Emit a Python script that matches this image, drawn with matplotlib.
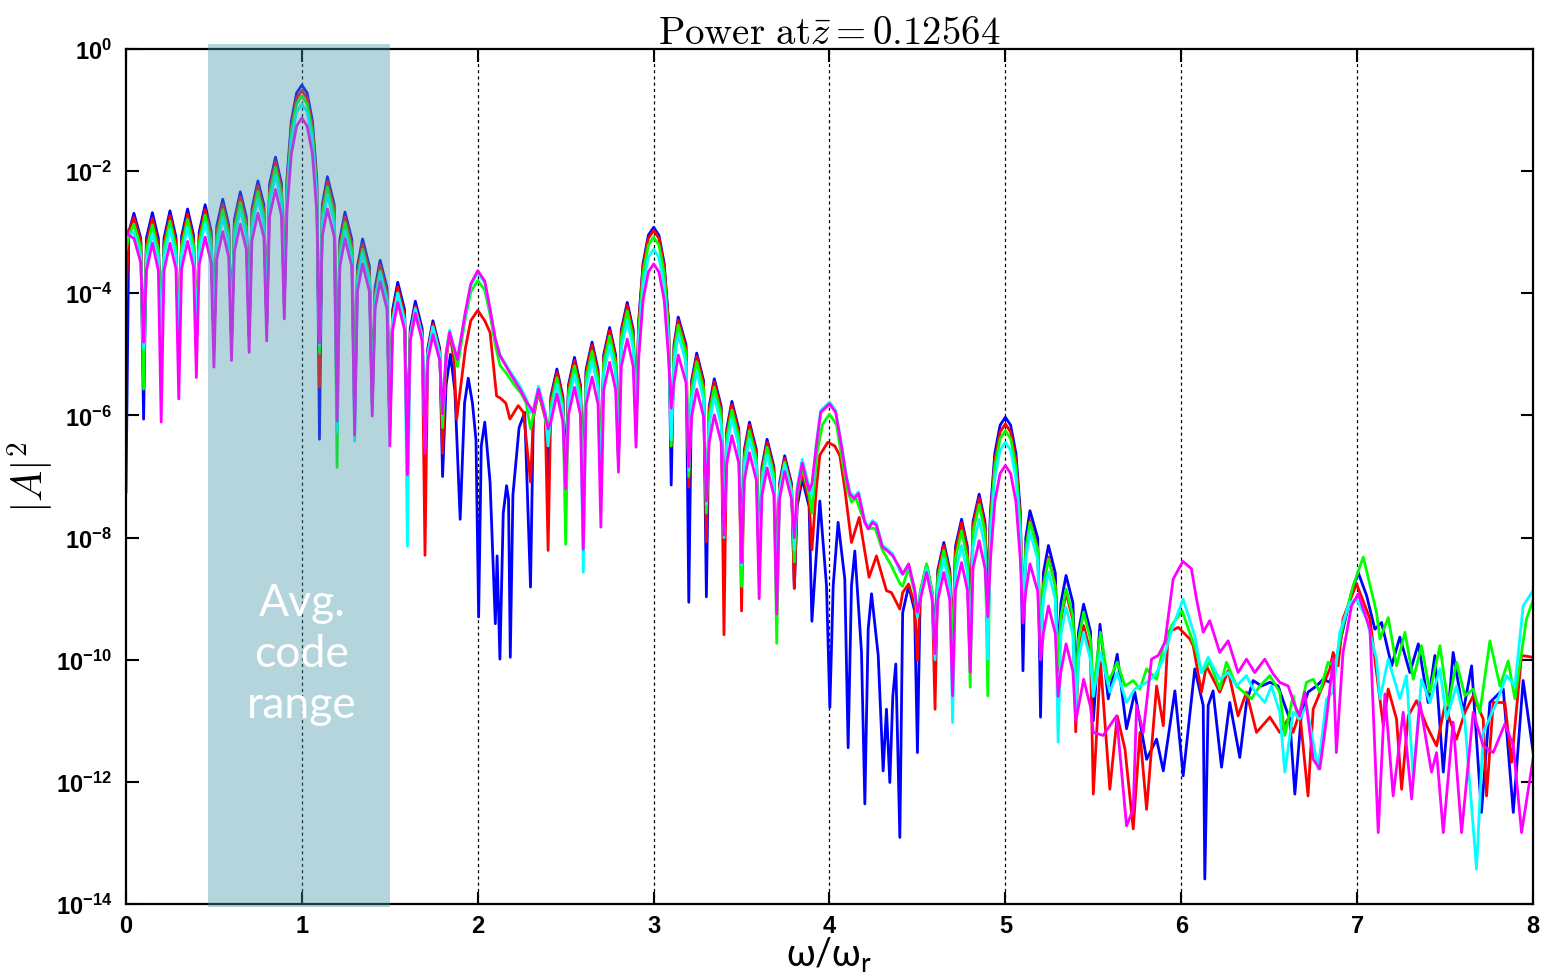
import numpy as np
import matplotlib
matplotlib.use('Agg')
import matplotlib.pyplot as plt
import matplotlib.transforms as mtransforms
from matplotlib.patches import Rectangle
from matplotlib.ticker import NullLocator

plt.rcParams['mathtext.fontset'] = 'custom'
plt.rcParams['mathtext.rm'] = 'Lato'
plt.rcParams['mathtext.bf'] = 'Liberation Sans:bold'

# values are log10(|A|^2)

# --- fundamental lobes, 0 .. 1.8 (null, shoulder, peak, shoulder per lobe)
xa = [0.0, 0.016, 0.045, 0.084,
      0.1, 0.116, 0.15, 0.184,
      0.2, 0.216, 0.25, 0.284,
      0.3, 0.316, 0.35, 0.384,
      0.4, 0.416, 0.45, 0.484,
      0.5, 0.516, 0.55, 0.584,
      0.6, 0.616, 0.65, 0.684,
      0.7, 0.716, 0.75, 0.784,
      0.8, 0.816, 0.85, 0.884,
      0.9, 0.915, 0.94, 0.97, 1.0, 1.03, 1.06, 1.085,
      1.1, 1.116, 1.145, 1.184,
      1.2, 1.216, 1.245, 1.284,
      1.3, 1.316, 1.345, 1.384,
      1.4, 1.416, 1.445, 1.484,
      1.5, 1.516, 1.545, 1.584,
      1.6, 1.616, 1.645, 1.684,
      1.7, 1.716, 1.745, 1.784,
      1.8]

b_a = [-7.25, -3.0, -2.69, -3.1,
       -6.06, -3.1, -2.68, -3.1,
       -5.0, -3.1, -2.65, -3.08,
       -5.08, -3.07, -2.62, -3.05,
       -4.9, -3.0, -2.55, -2.98,
       -4.9, -2.9, -2.46, -2.88,
       -4.8, -2.8, -2.34, -2.75,
       -4.7, -2.62, -2.16, -2.55,
       -4.5, -2.22, -1.77, -2.2,
       -4.2, -2.13, -1.18, -0.72, -0.59, -0.72, -1.18, -2.13,
       -6.39, -2.55, -2.09, -2.55,
       -5.8, -3.12, -2.67, -3.12,
       -6.0, -3.56, -3.11, -3.56,
       -5.8, -3.91, -3.46, -3.91,
       -6.2, -4.27, -3.82, -4.27,
       -6.6, -4.58, -4.13, -4.58,
       -6.4, -4.9, -4.45, -4.9,
       -7.0]
r_a = [-4.06, -3.0, -2.76, -3.15,
       -5.0, -3.2, -2.77, -3.2,
       -4.9, -3.18, -2.73, -3.15,
       -4.9, -3.15, -2.70, -3.12,
       -4.8, -3.08, -2.63, -3.05,
       -4.8, -2.99, -2.54, -2.96,
       -4.75, -2.87, -2.42, -2.83,
       -4.65, -2.69, -2.24, -2.63,
       -4.5, -2.3, -1.85, -2.28,
       -4.2, -2.22, -1.27, -0.81, -0.68, -0.81, -1.27, -2.22,
       -5.53, -2.62, -2.17, -2.62,
       -5.8, -3.2, -2.75, -3.2,
       -6.0, -3.64, -3.19, -3.64,
       -5.8, -3.99, -3.54, -3.99,
       -6.2, -4.35, -3.90, -4.35,
       -6.6, -4.66, -4.21, -4.66,
       -8.29, -4.95, -4.50, -4.95,
       -6.62]
g_a = [-3.3, -3.05, -2.87, -3.25,
       -5.57, -3.3, -2.88, -3.3,
       -4.8, -3.27, -2.82, -3.25,
       -4.85, -3.24, -2.79, -3.21,
       -4.75, -3.17, -2.72, -3.14,
       -4.75, -3.08, -2.63, -3.05,
       -4.7, -2.96, -2.51, -2.92,
       -4.6, -2.78, -2.33, -2.72,
       -4.45, -2.39, -1.94, -2.37,
       -4.15, -2.31, -1.36, -0.90, -0.77, -0.90, -1.36, -2.31,
       -4.98, -2.71, -2.26, -2.71,
       -6.85, -3.29, -2.84, -3.29,
       -6.0, -3.73, -3.28, -3.73,
       -5.8, -4.08, -3.63, -4.08,
       -6.2, -4.44, -3.99, -4.44,
       -6.6, -4.75, -4.30, -4.75,
       -6.4, -5.0, -4.55, -5.0,
       -6.2]
c_a = [-3.1, -3.05, -3.0, -3.4,
       -4.9, -3.45, -3.02, -3.45,
       -4.8, -3.4, -2.95, -3.38,
       -4.8, -3.37, -2.92, -3.34,
       -4.7, -3.3, -2.85, -3.27,
       -4.7, -3.21, -2.76, -3.18,
       -4.7, -3.09, -2.64, -3.05,
       -4.6, -2.91, -2.46, -2.85,
       -4.45, -2.52, -2.07, -2.5,
       -4.15, -2.44, -1.49, -1.03, -0.90, -1.03, -1.49, -2.44,
       -4.85, -2.84, -2.39, -2.84,
       -6.27, -3.42, -2.97, -3.42,
       -6.42, -3.8, -3.35, -3.8,
       -5.9, -4.11, -3.66, -4.11,
       -6.3, -4.45, -4.0, -4.45,
       -8.14, -4.7, -4.25, -4.7,
       -6.5, -5.0, -4.55, -5.0,
       -6.0]
m_a = [-2.95, -3.05, -3.1, -3.5,
       -4.8, -3.63, -3.18, -3.63,
       -6.11, -3.63, -3.18, -3.6,
       -5.73, -3.6, -3.15, -3.57,
       -5.38, -3.53, -3.08, -3.5,
       -5.21, -3.44, -2.99, -3.41,
       -5.10, -3.32, -2.87, -3.28,
       -4.97, -3.14, -2.69, -3.08,
       -4.78, -2.75, -2.30, -2.73,
       -4.42, -2.67, -1.72, -1.26, -1.13, -1.26, -1.72, -2.67,
       -4.81, -3.07, -2.62, -3.07,
       -6.09, -3.56, -3.11, -3.56,
       -6.32, -3.97, -3.52, -3.97,
       -6.01, -4.26, -3.81, -4.26,
       -6.50, -4.6, -4.15, -4.6,
       -6.97, -4.78, -4.33, -4.78,
       -6.62, -5.1, -4.68, -5.1,
       -5.98]

# --- second harmonic, 1.8 .. 2.3 (x, value)
b_h2 = [(1.82, -5.5), (1.845, -5.0), (1.87, -5.6), (1.9, -7.7), (1.925, -5.8),
        (1.946, -5.39), (1.97, -5.8), (1.99, -6.4), (2.005, -9.3), (2.02, -6.5),
        (2.04, -6.11), (2.07, -7.09), (2.1, -9.41), (2.11, -8.3), (2.126, -9.99),
        (2.145, -7.6), (2.164, -7.15), (2.175, -7.37), (2.185, -9.96), (2.2, -7.3),
        (2.235, -6.2), (2.267, -5.95)]
r_h2 = [(1.82, -5.1), (1.84, -4.64), (1.865, -5.1), (1.88, -6.06), (1.93, -4.9),
        (1.96, -4.45), (2.0, -4.28), (2.04, -4.45), (2.07, -4.64), (2.107, -5.68),
        (2.13, -5.72), (2.16, -5.8), (2.183, -6.06), (2.23, -5.84), (2.26, -5.95)]
g_h2 = [(1.82, -5.0), (1.84, -4.62), (1.865, -4.95), (1.885, -5.2), (1.93, -4.4),
        (1.96, -3.98), (2.0, -3.79), (2.04, -3.95), (2.07, -4.35), (2.1, -4.85),
        (2.126, -5.18), (2.16, -5.3), (2.21, -5.51), (2.25, -5.65), (2.275, -5.8)]
c_h2 = [(1.82, -5.0), (1.84, -4.6), (1.865, -4.9), (1.885, -5.05), (1.93, -4.33),
        (1.96, -3.88), (2.0, -3.66), (2.04, -3.83), (2.07, -4.28), (2.1, -4.75),
        (2.126, -5.0), (2.18, -5.26), (2.24, -5.52), (2.278, -5.74)]
m_h2 = [(1.82, -5.0), (1.84, -4.64), (1.865, -4.9), (1.885, -5.08), (1.93, -4.3),
        (1.96, -3.85), (2.0, -3.63), (2.04, -3.8), (2.07, -4.26), (2.1, -4.75),
        (2.126, -5.02), (2.18, -5.29), (2.24, -5.57), (2.278, -5.78)]

# --- third harmonic lobes, 2.3 .. 3.9
xc = [2.3, 2.316, 2.345, 2.384,
      2.4, 2.416, 2.45, 2.484,
      2.5, 2.516, 2.55, 2.584,
      2.6, 2.616, 2.65, 2.684,
      2.7, 2.716, 2.75, 2.784,
      2.8, 2.816, 2.85, 2.884,
      2.9, 2.915, 2.94, 2.97, 3.0, 3.03, 3.06, 3.085,
      3.1, 3.116, 3.14, 3.184,
      3.2, 3.216, 3.245, 3.284,
      3.3, 3.316, 3.345, 3.384,
      3.4, 3.416, 3.445, 3.484,
      3.5, 3.516, 3.545, 3.584,
      3.6, 3.616, 3.645, 3.684,
      3.7, 3.716, 3.745, 3.784,
      3.8, 3.816, 3.845, 3.884,
      3.9]

b_c = [-8.81, -6.0, -5.57, -6.0,
       -7.15, -5.69, -5.24, -5.69,
       -6.93, -5.5, -5.05, -5.5,
       -7.3, -5.25, -4.80, -5.25,
       -7.2, -5.01, -4.56, -5.01,
       -6.7, -4.6, -4.15, -4.6,
       -6.2, -4.46, -3.51, -3.05, -2.92, -3.05, -3.51, -4.46,
       -7.14, -4.84, -4.39, -4.84,
       -9.06, -5.43, -4.98, -5.43,
       -8.97, -5.85, -5.40, -5.85,
       -7.8, -6.22, -5.77, -6.22,
       -8.3, -6.56, -6.11, -6.56,
       -8.6, -6.84, -6.39, -6.84,
       -8.8, -7.11, -6.66, -7.11,
       -8.83, -7.49, -7.04, -7.49,
       -9.37]
r_c = [-7.09, -6.05, -5.62, -6.05,
       -8.21, -5.74, -5.29, -5.74,
       -7.0, -5.55, -5.10, -5.55,
       -7.3, -5.3, -4.85, -5.3,
       -7.2, -5.06, -4.61, -5.06,
       -6.7, -4.65, -4.20, -4.65,
       -6.2, -4.51, -3.56, -3.10, -2.97, -3.10, -3.56, -4.51,
       -6.5, -4.89, -4.44, -4.89,
       -7.17, -5.48, -5.03, -5.48,
       -8.07, -5.9, -5.45, -5.9,
       -9.59, -6.27, -5.82, -6.27,
       -9.2, -6.61, -6.16, -6.61,
       -8.5, -6.89, -6.44, -6.89,
       -8.8, -7.15, -6.70, -7.15,
       -8.83, -7.4, -6.95, -7.4,
       -8.2]
g_c = [-6.22, -6.0, -5.6, -6.02,
       -6.45, -5.83, -5.38, -5.83,
       -8.11, -5.64, -5.19, -5.64,
       -7.3, -5.4, -4.95, -5.4,
       -7.2, -5.15, -4.70, -5.15,
       -6.7, -4.74, -4.29, -4.74,
       -6.2, -4.62, -3.67, -3.21, -3.08, -3.21, -3.67, -4.62,
       -6.5, -4.97, -4.52, -4.97,
       -7.0, -5.57, -5.12, -5.57,
       -7.6, -5.99, -5.54, -5.99,
       -7.9, -6.36, -5.91, -6.36,
       -8.8, -6.7, -6.25, -6.7,
       -8.5, -6.97, -6.52, -6.97,
       -9.73, -7.21, -6.76, -7.21,
       -8.4, -7.3, -6.85, -7.3,
       -7.6]
c_c = [-5.95, -5.9, -5.52, -5.95,
       -6.5, -5.94, -5.49, -5.94,
       -7.1, -5.78, -5.33, -5.78,
       -8.57, -5.55, -5.10, -5.55,
       -7.3, -5.31, -4.86, -5.31,
       -6.8, -4.9, -4.45, -4.9,
       -6.3, -4.82, -3.87, -3.41, -3.28, -3.41, -3.87, -4.82,
       -6.4, -5.13, -4.68, -5.13,
       -6.9, -5.73, -5.28, -5.73,
       -7.45, -6.15, -5.70, -6.15,
       -8.0, -6.5, -6.05, -6.5,
       -8.45, -6.83, -6.38, -6.83,
       -8.6, -7.09, -6.64, -7.09,
       -9.0, -7.25, -6.80, -7.25,
       -8.2, -7.17, -6.72, -7.17,
       -7.3]
m_c = [-5.87, -5.95, -5.57, -6.0,
       -6.22, -6.1, -5.65, -6.1,
       -7.2, -5.99, -5.54, -5.99,
       -8.19, -5.82, -5.37, -5.82,
       -7.83, -5.58, -5.13, -5.58,
       -6.93, -5.2, -4.75, -5.2,
       -6.52, -5.06, -4.11, -3.65, -3.52, -3.65, -4.11, -5.06,
       -5.88, -5.46, -5.01, -5.46,
       -6.84, -6.02, -5.57, -6.02,
       -7.40, -6.44, -5.99, -6.44,
       -7.96, -6.78, -6.33, -6.78,
       -8.41, -7.06, -6.61, -7.06,
       -9.0, -7.31, -6.86, -7.31,
       -9.25, -7.37, -6.92, -7.37,
       -8.0, -7.23, -6.78, -7.23,
       -7.12]

# --- fourth harmonic, 3.9 .. 4.4
b_h4 = [(3.945, -7.40), (3.983, -8.79), (4.002, -10.78), (4.021, -8.79), (4.049, -7.75),
        (4.087, -8.68), (4.106, -11.44), (4.125, -8.79), (4.144, -8.22), (4.182, -9.88),
        (4.201, -12.36), (4.22, -9.5), (4.239, -8.92), (4.277, -9.93), (4.305, -11.82),
        (4.324, -10.81), (4.343, -12.01), (4.36, -10.6), (4.377, -10.07)]
r_h4 = [(3.925, -7.2), (3.945, -6.65), (3.99, -6.44), (4.03, -6.5), (4.059, -6.66),
        (4.087, -7.2), (4.125, -8.08), (4.169, -7.67), (4.225, -8.65), (4.267, -8.30),
        (4.324, -8.87), (4.352, -8.9)]
g_h4 = [(3.93, -6.6), (3.96, -6.15), (4.0, -5.98), (4.04, -6.15), (4.07, -6.7),
        (4.1, -7.2), (4.125, -7.42), (4.15, -7.35), (4.18, -7.6), (4.22, -7.85),
        (4.26, -7.85), (4.3, -8.2), (4.35, -8.45)]
c_h4 = [(3.925, -6.45), (3.95, -5.92), (4.0, -5.78), (4.035, -5.92), (4.068, -6.47),
        (4.095, -6.97), (4.116, -7.26), (4.14, -7.33), (4.165, -7.25), (4.2, -7.72),
        (4.22, -7.83), (4.245, -7.72), (4.267, -7.77), (4.3, -8.12), (4.33, -8.19),
        (4.36, -8.27)]
m_h4 = [(3.925, -6.5), (3.95, -5.95), (4.0, -5.81), (4.035, -5.95), (4.068, -6.5),
        (4.095, -7.0), (4.116, -7.29), (4.14, -7.36), (4.165, -7.28), (4.2, -7.75),
        (4.22, -7.86), (4.245, -7.75), (4.267, -7.8), (4.3, -8.15), (4.33, -8.22),
        (4.36, -8.3)]

# --- fifth harmonic lobes, 4.4 .. 5.5
xe = [4.4, 4.416, 4.45, 4.484,
      4.5, 4.516, 4.552, 4.584,
      4.6, 4.616, 4.65, 4.684,
      4.7, 4.716, 4.751, 4.784,
      4.8, 4.816, 4.851, 4.884,
      4.9, 4.915, 4.94, 4.97, 5.0, 5.03, 5.06, 5.085,
      5.1, 5.116, 5.14, 5.184,
      5.2, 5.216, 5.245, 5.284,
      5.3, 5.316, 5.345, 5.384,
      5.4, 5.416, 5.445, 5.484,
      5.5]

b_e = [-12.91, -9.23, -8.79, -9.2,
       -11.52, -8.9, -8.45, -8.9,
       -9.6, -8.53, -8.08, -8.53,
       -9.8, -8.15, -7.70, -8.15,
       -9.5, -7.74, -7.29, -7.74,
       -9.0, -7.57, -6.62, -6.16, -6.03, -6.16, -6.62, -7.57,
       -10.18, -8.01, -7.56, -8.01,
       -10.94, -8.58, -8.13, -8.58,
       -10.0, -9.07, -8.62, -9.07,
       -10.3, -9.54, -9.09, -9.54,
       -11.0]
r_e = [-9.17, -8.9, -8.76, -9.1,
       -10.01, -8.93, -8.48, -8.93,
       -10.81, -8.58, -8.13, -8.58,
       -9.8, -8.21, -7.76, -8.21,
       -9.5, -7.8, -7.35, -7.8,
       -9.0, -7.68, -6.73, -6.27, -6.14, -6.27, -6.73, -7.68,
       -9.3, -8.17, -7.72, -8.17,
       -9.8, -8.77, -8.32, -8.77,
       -10.2, -9.35, -8.90, -9.35,
       -11.18, -9.89, -9.44, -9.89,
       -12.2]
g_e = [-8.75, -8.8, -8.5, -8.9,
       -9.3, -8.88, -8.43, -8.88,
       -9.8, -8.66, -8.21, -8.66,
       -9.9, -8.34, -7.89, -8.34,
       -10.45, -7.91, -7.46, -7.91,
       -10.59, -7.79, -6.84, -6.38, -6.25, -6.38, -6.84, -7.79,
       -9.2, -8.2, -7.75, -8.2,
       -9.7, -8.8, -8.35, -8.8,
       -10.1, -9.29, -8.84, -9.29,
       -10.4, -9.67, -9.22, -9.67,
       -10.5]
c_e = [-8.55, -8.6, -8.45, -8.85,
       -9.3, -8.95, -8.5, -8.95,
       -10.0, -8.8, -8.35, -8.8,
       -11.03, -8.58, -8.13, -8.58,
       -10.0, -8.15, -7.70, -8.15,
       -9.99, -7.98, -7.03, -6.57, -6.44, -6.57, -7.03, -7.98,
       -9.1, -8.36, -7.91, -8.36,
       -9.99, -9.01, -8.56, -9.01,
       -11.35, -9.59, -9.14, -9.59,
       -10.9, -10.0, -9.55, -10.0,
       -10.6]
m_e = [-8.5, -8.6, -8.43, -8.85,
       -9.22, -9.02, -8.57, -9.02,
       -9.9, -9.02, -8.57, -9.02,
       -10.59, -8.86, -8.41, -8.86,
       -10.2, -8.5, -8.05, -8.5,
       -9.3, -8.36, -7.41, -6.95, -6.82, -6.95, -7.41, -8.36,
       -9.4, -8.88, -8.43, -8.88,
       -10.0, -9.57, -9.12, -9.57,
       -10.6, -10.19, -9.74, -10.19,
       -11.0, -10.77, -10.32, -10.77,
       -11.19]

# --- 5.5 .. 8 (sixth / seventh harmonic and noise floor)
b_hi = [(5.538, -9.42), (5.585, -10.64), (5.636, -9.91), (5.689, -11.13), (5.736, -10.53),
        (5.803, -11.63), (5.86, -11.30), (5.898, -11.82), (5.964, -10.51), (6.011, -11.9),
        (6.077, -10.15), (6.125, -10.75), (6.134, -13.59), (6.153, -10.75), (6.181, -10.51),
        (6.229, -11.76), (6.276, -10.70), (6.333, -11.60), (6.371, -10.70), (6.409, -10.34),
        (6.456, -10.43), (6.504, -10.37), (6.551, -10.43), (6.589, -10.75), (6.617, -10.97),
        (6.646, -12.2), (6.684, -10.86), (6.721, -10.53), (6.769, -10.43), (6.807, -10.32),
        (6.845, -10.37), (6.882, -9.99), (6.92, -9.50), (6.968, -8.90), (7.006, -8.57),
        (7.054, -8.95), (7.101, -9.50), (7.139, -9.39), (7.196, -10.10), (7.243, -9.63),
        (7.30, -10.21), (7.348, -9.74), (7.404, -10.70), (7.442, -9.93), (7.49, -11.84),
        (7.546, -9.88), (7.603, -10.86), (7.651, -10.10), (7.707, -12.5), (7.755, -10.70),
        (7.831, -10.48), (7.888, -12.5), (7.944, -10.34), (8.0, -11.5)]
r_hi = [(5.541, -10.04), (5.594, -12.12), (5.636, -10.92), (5.68, -11.46), (5.727, -12.77),
        (5.765, -11.19), (5.803, -12.45), (5.86, -10.43), (5.898, -11.08), (5.926, -9.55),
        (5.983, -9.47), (6.049, -9.66), (6.068, -9.77), (6.115, -10.53), (6.143, -10.10),
        (6.219, -10.53), (6.267, -10.18), (6.323, -10.92), (6.371, -10.53), (6.428, -11.19),
        (6.504, -10.94), (6.56, -11.19), (6.608, -10.97), (6.636, -11.19), (6.674, -10.86),
        (6.721, -12.23), (6.75, -10.81), (6.797, -10.48), (6.845, -10.15), (6.864, -9.88),
        (6.892, -10.10), (6.92, -9.33), (6.977, -8.90), (6.997, -8.76), (7.073, -9.33),
        (7.12, -10.43), (7.149, -11.08), (7.177, -10.48), (7.224, -10.97), (7.253, -12.12),
        (7.291, -10.92), (7.338, -10.67), (7.395, -11.08), (7.452, -11.41), (7.499, -10.75),
        (7.565, -11.30), (7.613, -10.86), (7.66, -10.59), (7.717, -10.97), (7.736, -12.23),
        (7.774, -10.70), (7.84, -10.70), (7.878, -11.68), (7.935, -9.93), (8.0, -9.96)]
g_hi = [(5.541, -9.55), (5.585, -10.37), (5.636, -10.04), (5.68, -10.43), (5.727, -10.34),
        (5.765, -10.48), (5.803, -10.15), (5.86, -10.32), (5.898, -9.77), (5.945, -9.44),
        (6.005, -9.2), (6.087, -9.88), (6.115, -10.21), (6.162, -10.04), (6.219, -10.48),
        (6.257, -10.04), (6.314, -10.43), (6.399, -10.64), (6.447, -10.43), (6.504, -10.26),
        (6.56, -10.53), (6.589, -11.24), (6.636, -10.59), (6.665, -10.97), (6.712, -10.37),
        (6.75, -10.32), (6.788, -10.53), (6.835, -10.04), (6.873, -10.10), (6.92, -9.44),
        (6.977, -8.79), (7.035, -8.32), (7.11, -9.22), (7.13, -9.66), (7.177, -9.31),
        (7.224, -10.10), (7.272, -9.55), (7.319, -10.32), (7.366, -9.77), (7.414, -10.53),
        (7.471, -9.77), (7.518, -10.75), (7.565, -10.04), (7.613, -10.59), (7.66, -10.48),
        (7.698, -10.86), (7.755, -9.69), (7.812, -10.43), (7.859, -10.02), (7.897, -10.64),
        (7.963, -9.33), (8.0, -9.03)]
c_hi = [(5.541, -9.88), (5.594, -10.53), (5.636, -10.21), (5.689, -10.7), (5.736, -10.48),
        (5.803, -10.37), (5.85, -10.26), (5.898, -9.99), (5.954, -9.44), (6.011, -9.01),
        (6.077, -9.61), (6.115, -10.21), (6.153, -9.96), (6.219, -10.32), (6.267, -10.21),
        (6.314, -10.43), (6.371, -10.26), (6.409, -10.48), (6.475, -10.70), (6.513, -10.43),
        (6.56, -10.86), (6.589, -11.84), (6.636, -10.86), (6.674, -10.97), (6.712, -10.75),
        (6.778, -11.79), (6.826, -10.64), (6.864, -10.53), (6.902, -9.55), (6.958, -9.06),
        (6.997, -9.01), (7.054, -9.33), (7.11, -9.99), (7.13, -10.64), (7.177, -9.99),
        (7.243, -10.64), (7.281, -10.26), (7.319, -11.92), (7.366, -10.32), (7.414, -10.70),
        (7.471, -10.15), (7.508, -10.97), (7.565, -10.43), (7.613, -11.02), (7.679, -13.43),
        (7.717, -11.19), (7.793, -10.70), (7.85, -10.26), (7.897, -10.43), (7.944, -9.12),
        (8.0, -8.87)]
m_hi = [(5.556, -11.24), (5.632, -10.92), (5.689, -12.72), (5.727, -12.45), (5.746, -10.75),
        (5.784, -11.19), (5.831, -9.99), (5.869, -9.93), (5.907, -9.72), (5.954, -8.68),
        (6.009, -8.39), (6.058, -8.51), (6.087, -9.01), (6.125, -9.55), (6.162, -9.36),
        (6.219, -9.88), (6.267, -9.69), (6.323, -10.21), (6.371, -9.99), (6.418, -10.21),
        (6.475, -9.99), (6.522, -10.23), (6.56, -10.37), (6.608, -10.43), (6.646, -10.75),
        (6.674, -10.92), (6.702, -10.53), (6.75, -11.63), (6.788, -11.79), (6.826, -10.97),
        (6.864, -9.99), (6.882, -11.52), (6.92, -9.88), (6.968, -9.12), (7.006, -8.92),
        (7.073, -9.50), (7.12, -12.83), (7.158, -10.56), (7.205, -12.23), (7.262, -10.86),
        (7.31, -12.28), (7.357, -10.70), (7.423, -11.84), (7.452, -11.52), (7.49, -12.83),
        (7.546, -11.02), (7.594, -12.83), (7.66, -10.86), (7.717, -11.41), (7.774, -11.52),
        (7.84, -11.05), (7.888, -11.41), (7.935, -12.83), (8.0, -11.63)]

ytick_exp = [0, -2, -4, -6, -8, -10, -12, -14]
xtick_vals = [0, 1, 2, 3, 4, 5, 6, 7, 8]
harmonics = [1, 2, 3, 4, 5, 6, 7]
code_range = (0.466, 1.5)


def build(*parts):
    xs, es = [], []
    for p in parts:
        if isinstance(p, tuple):
            xs += list(p[0])
            es += list(p[1])
        else:
            px, pe = zip(*p)
            xs += list(px)
            es += list(pe)
    return np.array(xs), 10.0 ** np.array(es)


series = [
    ('#0000ff', build((xa, b_a), b_h2, (xc, b_c), b_h4, (xe, b_e), b_hi)),
    ('#ff0000', build((xa, r_a), r_h2, (xc, r_c), r_h4, (xe, r_e), r_hi)),
    ('#00ff00', build((xa, g_a), g_h2, (xc, g_c), g_h4, (xe, g_e), g_hi)),
    ('#00ffff', build((xa, c_a), c_h2, (xc, c_c), c_h4, (xe, c_e), c_hi)),
    ('#ff00ff', build((xa, m_a), m_h2, (xc, m_c), m_h4, (xe, m_e), m_hi)),
]

fig = plt.figure(figsize=(15.48, 9.78), dpi=100)
ax = fig.add_axes([0.0814, 0.0746, 0.9089, 0.8743])

for k in harmonics:
    ax.axvline(k, color='k', lw=0.9, ls=(0, (2.5, 2.5)), zorder=1)

for col, (x, y) in series:
    ax.plot(x, y, color=col, lw=2.0, zorder=2)

ax.set_yscale('log')
ax.set_xlim(0, 8)
ax.set_ylim(1e-14, 1)

# shaded averaging window, drawn over the curves
trans = mtransforms.blended_transform_factory(ax.transData, ax.transAxes)
ax.add_patch(Rectangle((code_range[0], -0.003), code_range[1] - code_range[0], 1.009,
                       transform=trans, facecolor=(70/255, 150/255, 170/255),
                       alpha=0.4, edgecolor='none', zorder=3, clip_on=False))
ax.text(1.0, 10 ** -9.9, 'Avg.\ncode\nrange', color='white', fontsize=32,
        family=['Lato', 'DejaVu Sans'], ha='center', va='center',
        linespacing=1.3, zorder=4)

ax.set_yticks([10.0 ** e for e in ytick_exp])
ax.set_yticklabels([r'$\mathbf{10^{%d}}$' % e for e in ytick_exp])
ax.yaxis.set_minor_locator(NullLocator())
ax.set_xticks(xtick_vals)
ax.set_xticklabels([str(v) for v in xtick_vals], fontweight='bold',
                   family='Liberation Sans')
ax.tick_params(axis='both', direction='in', top=True, right=True,
               length=9, width=1.5, labelsize=17)
ax.tick_params(axis='y', pad=10)
ax.tick_params(axis='x', pad=7)
for s in ax.spines.values():
    s.set_linewidth(1.6)

ax.set_title(r'$\mathrm{Power\ at}\bar{z} = 0.12564$', math_fontfamily='cm',
             fontsize=28, pad=4)
ax.set_ylabel(r'$|A|^2$', math_fontfamily='cm', fontsize=30)
ax.yaxis.set_label_coords(-0.05, 0.5)
ax.set_xlabel(r'ω/ω$_{\mathrm{r}}$', fontsize=27, family=['Lato', 'DejaVu Sans'])
ax.xaxis.set_label_coords(0.5, -0.036)

fig.savefig('out.png', dpi=100, facecolor='white')
